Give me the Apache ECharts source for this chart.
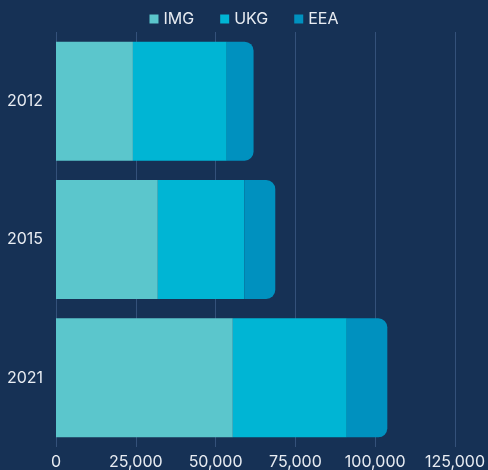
<!DOCTYPE html>
<html><head><meta charset="utf-8">
<script src="https://cdn.jsdelivr.net/npm/echarts@6/dist/echarts.min.js"></script>
<style>html,body{margin:0;padding:0;background:#163155;}#c{width:488px;height:470px;}</style>
</head><body><div id="c"></div>
<script>
const categories = ['2012', '2015', '2021'];
const seriesNames = ['IMG', 'UKG', 'EEA'];
const imgValues = [24100, 31900, 55400];
const ukgValues = [29400, 27100, 35700];
const eeaValues = [8400, 9700, 12700];
const colors = ['#5bc6cc', '#00b5d4', '#0091bf'];

const chart = echarts.init(document.getElementById('c'));
const font = 'Inter, "Noto Sans", sans-serif';
const data = [imgValues, ukgValues, eeaValues];
chart.setOption({
  backgroundColor: '#163155',
  animation: false,
  textStyle: {fontFamily: font},
  legend: {
    top: 6, left: 'center', itemWidth: 9, itemHeight: 9, itemGap: 26,
    icon: 'rect',
    textStyle: {color: '#e8ecf2', fontSize: 16, fontFamily: font},
    data: seriesNames
  },
  grid: {left: 56, right: 33, top: 32, bottom: 18, containLabel: false},
  xAxis: {
    type: 'value', min: 0, max: 125000, interval: 25000,
    axisLine: {show: false}, axisTick: {show: false},
    splitLine: {show: true, lineStyle: {color: '#34517a', width: 1}},
    axisLabel: {color: '#e8ecf2', fontSize: 16, fontFamily: font, margin: 7,
      formatter: v => v.toLocaleString('en-US')}
  },
  yAxis: {
    type: 'category', data: categories, inverse: true,
    axisLine: {show: false}, axisTick: {show: false},
    axisLabel: {color: '#e8ecf2', fontSize: 16, fontFamily: font, margin: 13}
  },
  series: seriesNames.map((n, i) => ({
    name: n, type: 'bar', stack: 'total', data: data[i],
    barCategoryGap: '14%',
    itemStyle: {color: colors[i], borderRadius: i === 2 ? [0, 9, 9, 0] : 0}
  }))
});
</script></body></html>
